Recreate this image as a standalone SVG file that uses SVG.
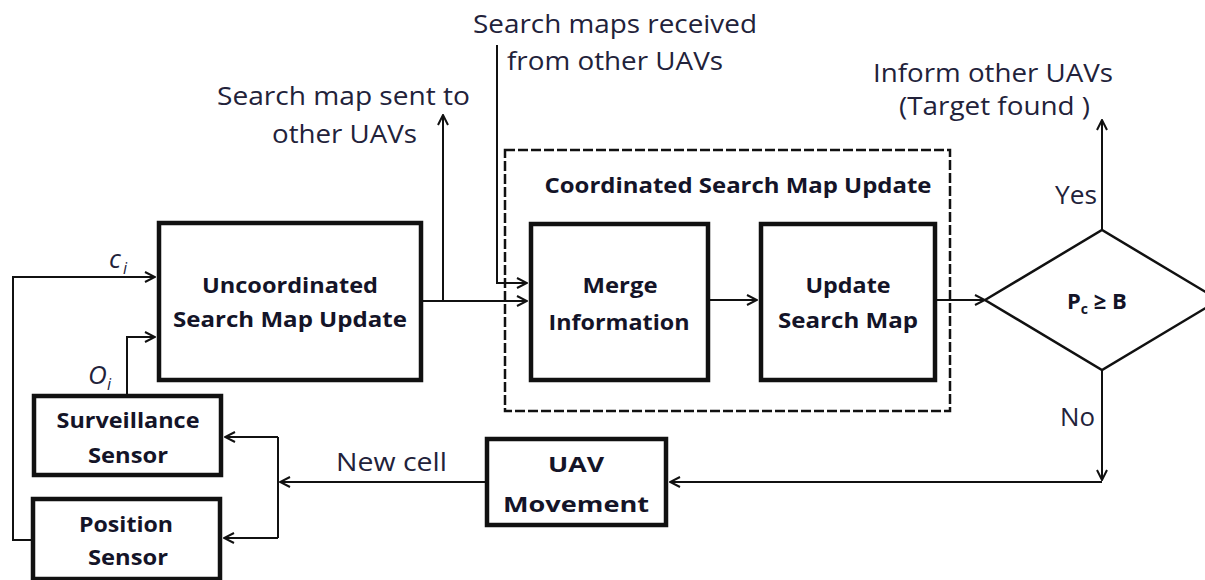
<svg xmlns="http://www.w3.org/2000/svg" width="1205" height="580" viewBox="0 0 1205 580">
<style>
.box{fill:#fff;stroke:#111;stroke-width:4.5}
.ln{fill:none;stroke:#111;stroke-width:2}
.lbl{font-family:"Open Sans","Liberation Sans",sans-serif;font-size:25px;fill:#22223a}
.bt{font-family:"Open Sans","Liberation Sans",sans-serif;font-size:22px;font-weight:bold;fill:#141428;text-anchor:middle}
.it{font-family:"Open Sans","Liberation Sans",sans-serif;font-style:italic;fill:#22223a}
</style>
<defs>
<marker id="arr" viewBox="0 0 12 12" refX="11" refY="6" markerWidth="12" markerHeight="12" markerUnits="userSpaceOnUse" orient="auto">
<path d="M1,1 L11,6 L1,11" fill="none" stroke="#111" stroke-width="2"/>
</marker>
</defs>
<rect width="1205" height="580" fill="#fff"/>

<g id="coordinated-group">
<rect x="505" y="150" width="445" height="261" fill="none" stroke="#111" stroke-width="2.5" stroke-dasharray="10 3"/>
<text class="bt" x="738" y="193" textLength="387" lengthAdjust="spacingAndGlyphs">Coordinated Search Map Update</text>
</g>

<g id="connectors">
<path class="ln" d="M31,540 H13 V277 H155" marker-end="url(#arr)"/>
<path class="ln" d="M127,394 V337 H155" marker-end="url(#arr)"/>
<path class="ln" d="M423,301 H527" marker-end="url(#arr)"/>
<path class="ln" d="M443,301 V115" marker-end="url(#arr)"/>
<path class="ln" d="M497,45 V283 H527" marker-end="url(#arr)"/>
<path class="ln" d="M710,300 H757" marker-end="url(#arr)"/>
<path class="ln" d="M937,300 H985" marker-end="url(#arr)"/>
<path class="ln" d="M1102,230 V120" marker-end="url(#arr)"/>
<path class="ln" d="M1102,370 V480" marker-end="url(#arr)"/>
<path class="ln" d="M1102,482 H670" marker-end="url(#arr)"/>
<path class="ln" d="M485,482 H280" marker-end="url(#arr)"/>
<path class="ln" d="M278,437 V538"/>
<path class="ln" d="M278,437 H225" marker-end="url(#arr)"/>
<path class="ln" d="M278,538 H224" marker-end="url(#arr)"/>
</g>

<g id="labels">
<text class="lbl" x="217" y="105" textLength="253" lengthAdjust="spacingAndGlyphs">Search map sent to</text>
<text class="lbl" x="272" y="143" textLength="145" lengthAdjust="spacingAndGlyphs">other UAVs</text>
<text class="lbl" x="473" y="33" textLength="284" lengthAdjust="spacingAndGlyphs">Search maps received</text>
<text class="lbl" x="507" y="70" textLength="216" lengthAdjust="spacingAndGlyphs">from other UAVs</text>
<text class="lbl" x="873" y="82" textLength="240" lengthAdjust="spacingAndGlyphs">Inform other UAVs</text>
<text class="lbl" x="899" y="115" textLength="191" lengthAdjust="spacingAndGlyphs">(Target found )</text>
<text class="lbl" x="1055" y="204" textLength="42" lengthAdjust="spacingAndGlyphs">Yes</text>
<text class="lbl" x="1060" y="426" textLength="35" lengthAdjust="spacingAndGlyphs">No</text>
<text class="lbl" x="336" y="471" textLength="111" lengthAdjust="spacingAndGlyphs">New cell</text>
<text class="it" x="109" y="268" font-size="26">c</text>
<text class="it" x="123" y="274" font-size="16">i</text>
<text class="it" x="88" y="384" font-size="26">O</text>
<text class="it" x="107" y="390" font-size="16">i</text>
</g>

<g id="uncoordinated">
<rect class="box" x="159" y="223" width="262" height="157"/>
<text class="bt" x="290" y="293" textLength="176" lengthAdjust="spacingAndGlyphs">Uncoordinated</text>
<text class="bt" x="290" y="327" textLength="234" lengthAdjust="spacingAndGlyphs">Search Map Update</text>
</g>

<g id="merge">
<rect class="box" x="531" y="224" width="177" height="156"/>
<text class="bt" x="620" y="293" textLength="75" lengthAdjust="spacingAndGlyphs">Merge</text>
<text class="bt" x="619" y="330" textLength="141" lengthAdjust="spacingAndGlyphs">Information</text>
</g>

<g id="update">
<rect class="box" x="761" y="224" width="174" height="156"/>
<text class="bt" x="848" y="293" textLength="85" lengthAdjust="spacingAndGlyphs">Update</text>
<text class="bt" x="848" y="328" textLength="140" lengthAdjust="spacingAndGlyphs">Search Map</text>
</g>

<g id="decision">
<polygon points="985,300 1102,230 1219,300 1102,370" fill="#fff" stroke="#111" stroke-width="2.5"/>
<text x="1067" y="309" font-family="'Open Sans','Liberation Sans',sans-serif" font-weight="bold" font-size="22" fill="#141428">P<tspan font-size="14" dy="5">c</tspan><tspan dy="-5"> ≥ B</tspan></text>
</g>

<g id="uav-movement">
<rect class="box" x="487" y="439" width="179" height="86"/>
<text class="bt" x="576" y="472" textLength="56" lengthAdjust="spacingAndGlyphs">UAV</text>
<text class="bt" x="576" y="512" textLength="146" lengthAdjust="spacingAndGlyphs">Movement</text>
</g>

<g id="surveillance-sensor">
<rect class="box" x="34" y="396" width="187" height="79"/>
<text class="bt" x="128" y="428" textLength="143" lengthAdjust="spacingAndGlyphs">Surveillance</text>
<text class="bt" x="128" y="463" textLength="80" lengthAdjust="spacingAndGlyphs">Sensor</text>
</g>

<g id="position-sensor">
<rect class="box" x="33" y="499" width="187" height="80"/>
<text class="bt" x="126" y="532" textLength="94" lengthAdjust="spacingAndGlyphs">Position</text>
<text class="bt" x="128" y="565" textLength="80" lengthAdjust="spacingAndGlyphs">Sensor</text>
</g>
</svg>
